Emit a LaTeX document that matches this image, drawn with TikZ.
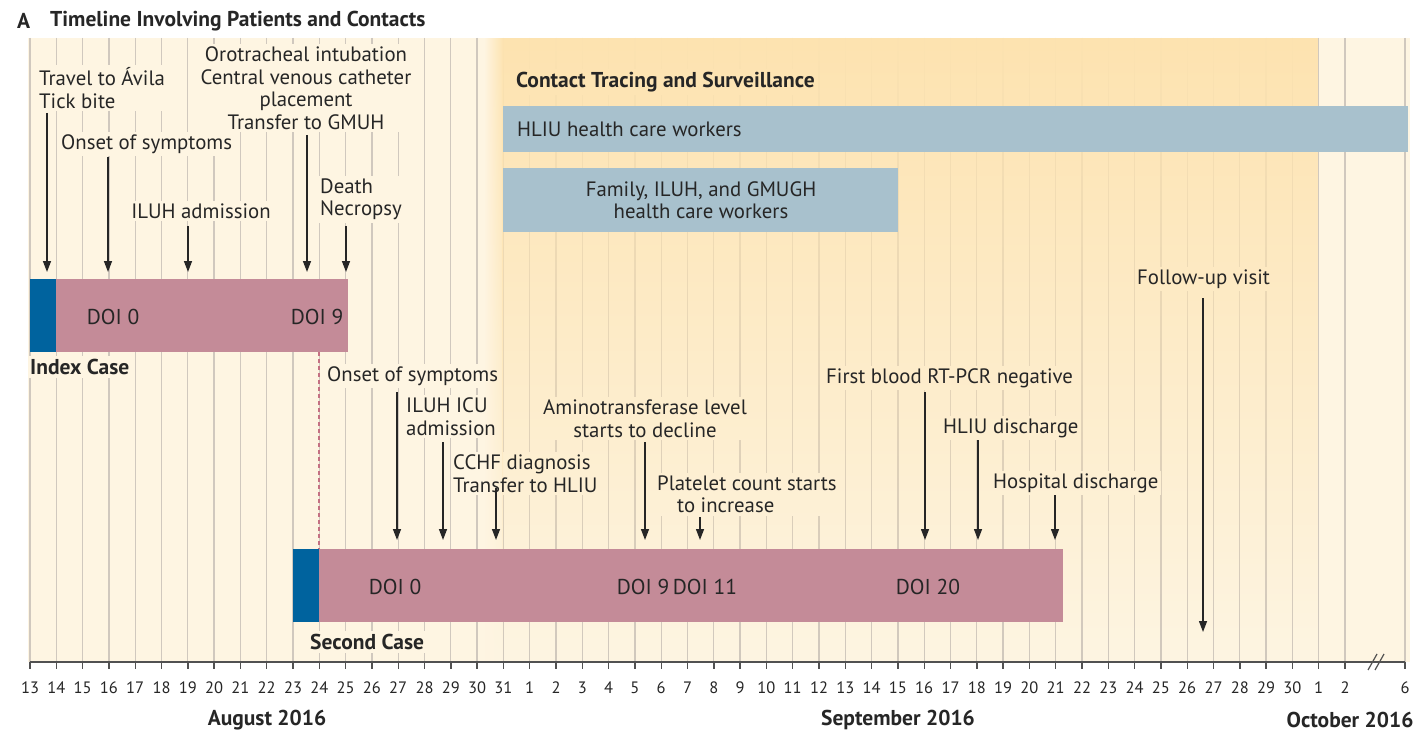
\documentclass[tikz,border=0pt]{standalone}
\usepackage{fontspec}
\setmainfont{PT Sans}
\usetikzlibrary{arrows.meta,fadings}

\definecolor{cream}{RGB}{254,245,226}
\definecolor{tintorange}{RGB}{253,227,176}
\definecolor{gridc}{RGB}{208,200,190}
\definecolor{boxblue}{RGB}{168,193,205}
\definecolor{barpink}{RGB}{196,139,152}
\definecolor{onsetblue}{RGB}{0,99,158}
\definecolor{ink}{RGB}{38,38,38}
\definecolor{dashpink}{RGB}{196,112,130}

\pgfdeclarelayer{back}
\pgfdeclarelayer{patch}
\pgfdeclarelayer{tint}
\pgfsetlayers{back,patch,tint,main}

\tikzfading[name=tintfade, top color=transparent!0, bottom color=transparent!100]

\begin{document}
\begin{tikzpicture}[x=1pt,y=-1pt,
  lbl/.style={text=ink,inner sep=2.5pt,font=\fontsize{20.8}{22.5}\selectfont},
  lblb/.style={lbl,font=\fontsize{21.5}{22.5}\selectfont\bfseries},
  doi/.style={text=ink,inner sep=0pt,font=\fontsize{21.5}{22.5}\selectfont},
  ticklbl/.style={text=ink,inner sep=0pt,font=\fontsize{16.5}{18}\selectfont},
  month/.style={text=ink,inner sep=0pt,font=\fontsize{21.5}{22}\selectfont\bfseries},
  evt/.style={draw=ink,line width=1.4pt,-{Triangle[width=8pt,length=11pt]}},
  gridline/.style={draw=gridc,line width=1.3pt},
  bar/.style={fill=barpink,draw=none,inner sep=0pt,outer sep=0pt},
  onset/.style={fill=onsetblue,draw=none,inner sep=0pt,outer sep=0pt},
  contactbox/.style={fill=boxblue,draw=none},
  dashlink/.style={draw=dashpink,line width=1.5pt,dash pattern=on 4pt off 3pt},
  axisline/.style={draw=ink!80,line width=1.4pt}]

\useasboundingbox (0,0) rectangle (1415,735);

% ---------- background and day grid ----------
\begin{pgfonlayer}{back}
  \fill[white] (0,0) rectangle (1415,735);
  \fill[cream] (28,38) rectangle (1410,662);
  \foreach \i in {0,...,50}
    \draw[gridline] ({30+26.3*\i},38) -- ({30+26.3*\i},662);
  \draw[gridline] (1405,38) -- (1405,662);
\end{pgfonlayer}

% ---------- contact tracing period tint ----------
\begin{pgfonlayer}{tint}
  \fill[tintorange,path fading=tintfade] (503,38) rectangle (1320,662);
  \shade[left color=cream,right color=tintorange,path fading=tintfade] (484,38) rectangle (503,662);
\end{pgfonlayer}

% ---------- title ----------
\node[lblb,anchor=west] (ttlA) at (14.5,21) {A};
\node[lblb,anchor=west] (ttl) at (47.5,21) {Timeline Involving Patients and Contacts};

% ---------- contact tracing ----------
\node[lblb,anchor=west] (ctrace) at (513.5,82) {Contact Tracing and Surveillance};
\fill[contactbox] (503,106) rectangle (1408,152);
\node[lbl,anchor=west] (hliu) at (514.5,129) {HLIU health care workers};
\fill[contactbox] (503,168) rectangle (898,232);
\node[lbl,align=center] (fam) at (701,200) {Family, ILUH, and GMUGH\\health care workers};

% ---------- index case ----------
\node[onset,anchor=north west,minimum width=26,minimum height=73] (idxon) at (30,279) {};
\node[bar,anchor=north west,minimum width=292,minimum height=73] (idxbar) at (56,279) {};
\node[doi] (idoi0) at (113,317) {DOI 0};
\node[doi] (idoi9) at (317,317) {DOI 9};
\node[lblb,anchor=west] (idx) at (27.5,367) {Index Case};

\node[lbl,anchor=west,align=left] (travel) at (36.5,88) {Travel to Ávila\\Tick bite};
\node[lbl,anchor=west] (onset1) at (58.5,144) {Onset of symptoms};
\node[lbl] (iluhadm) at (201,211) {ILUH admission};
\node[lbl,align=center] (oro) at (306,88) {Orotracheal intubation\\Central venous catheter\\placement\\Transfer to GMUH};
\node[lbl,anchor=west,align=left] (death) at (317.5,199.5) {Death\\Necropsy};

\coordinate (s1) at (47,113);  \coordinate (t1) at (47,272);
\coordinate (s2) at (108,157); \coordinate (t2) at (108,272);
\coordinate (s3) at (188,226); \coordinate (t3) at (188,272);
\coordinate (s4) at (307,135); \coordinate (t4) at (307,272);
\coordinate (s5) at (346,226); \coordinate (t5) at (346,272);
\foreach \k in {1,...,5} \draw[evt] (s\k) -- (t\k);

% ---------- second case ----------
\node[onset,anchor=north west,minimum width=26,minimum height=73] (secon) at (293,549) {};
\node[bar,anchor=north west,minimum width=744,minimum height=73] (secbar) at (319,549) {};
\draw[dashlink] (idxbar.south -| secbar.north west) -- (secbar.north west);
\node[doi] (sdoi0) at (395,587) {DOI 0};
\node[doi] (sdoi9) at (643,587) {DOI 9};
\node[doi] (sdoi11) at (705,587) {DOI 11};
\node[doi] (sdoi20) at (928,587) {DOI 20};
\node[lblb,anchor=west] (second) at (307.5,642) {Second Case};

\node[lbl,anchor=west] (onset2) at (324.5,376) {Onset of symptoms};
\node[lbl,anchor=west,align=left] (icu) at (403.5,416.5) {ILUH ICU\\admission};
\node[lbl,anchor=west,align=left] (cchf) at (450.5,473.5) {CCHF diagnosis\\Transfer to HLIU};
\node[lbl,align=center] (amino) at (645,418.5) {Aminotransferase level\\starts to decline};
\node[lbl,anchor=west,align=left] (plate) at (654.5,494.5) {Platelet count starts\\\hspace*{20pt}to increase};
\node[lbl,anchor=west] (first) at (823.5,378) {First blood RT-PCR negative};
\node[lbl,anchor=west] (hliudis) at (940.5,428) {HLIU discharge};
\node[lbl,anchor=west] (hosp) at (990.5,483) {Hospital discharge};
\node[lbl,anchor=west] (follow) at (1134.5,279) {Follow-up visit};

\coordinate (u1) at (397,392);  \coordinate (v1) at (397,540);
\coordinate (u2) at (443,442);  \coordinate (v2) at (443,540);
\coordinate (u3) at (496,488);  \coordinate (v3) at (496,540);
\coordinate (u4) at (645,442);  \coordinate (v4) at (645,540);
\coordinate (u5) at (700,517);  \coordinate (v5) at (700,540);
\coordinate (u6) at (925,392);  \coordinate (v6) at (925,540);
\coordinate (u7) at (978,440);  \coordinate (v7) at (978,540);
\coordinate (u8) at (1055,495); \coordinate (v8) at (1055,540);
\coordinate (u9) at (1203,298); \coordinate (v9) at (1203,632);
\foreach \k in {1,...,9} \draw[evt] (u\k) -- (v\k);

% ---------- label backings that interrupt the grid ----------
\begin{pgfonlayer}{patch}
  \foreach \n in {ctrace,idx,travel,onset1,iluhadm,oro,death,second,onset2,icu,cchf,amino,plate,first,hliudis,hosp,follow}
    \fill[cream] (\n.south west) rectangle (\n.north east);
\end{pgfonlayer}

% ---------- time axis ----------
\draw[axisline] (30,662) -- (1405,662);
\foreach \i in {0,...,50}{
  \pgfmathtruncatemacro\d{\i<19 ? \i+13 : (\i<49 ? \i-18 : \i-48)}
  \draw[axisline] ({30+26.3*\i},662) -- ({30+26.3*\i},669);
  \node[ticklbl] (tk\i) at ({30+26.3*\i},688) {\d};
}
\draw[axisline] (1405,662) -- (1405,669);
\node[ticklbl] (tk6oct) at (1405,688) {6};
\draw[axisline,line width=1.2pt] (1368,670) -- (1377,654);
\draw[axisline,line width=1.2pt] (1375,670) -- (1384,654);

\node[month] (aug) at (267,720) {August 2016};
\node[month] (sep) at (898,720) {September 2016};
\node[month] (oct) at (1350,720) {October 2016};

\end{tikzpicture}
\end{document}
